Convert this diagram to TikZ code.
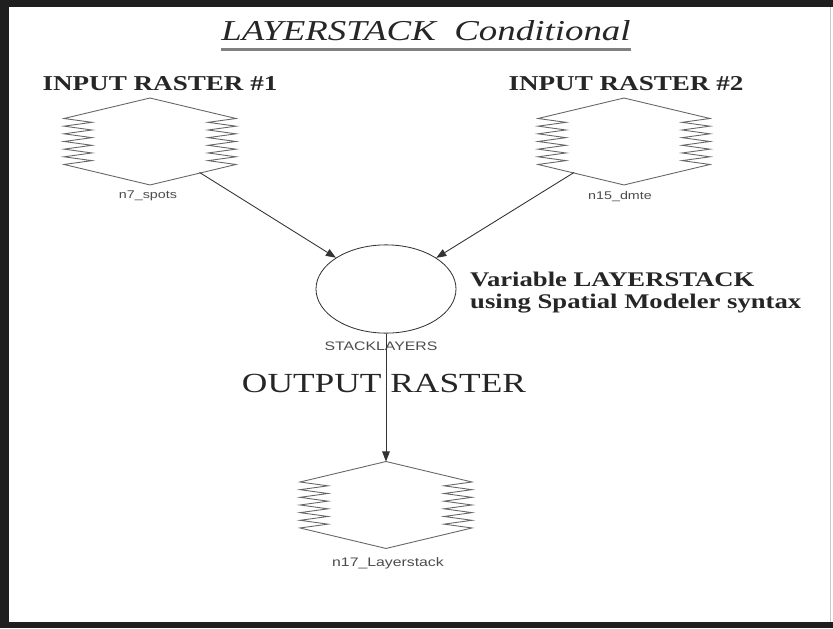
\documentclass[tikz,border=0pt]{standalone}
\usepackage{fontspec}
\setmainfont{Liberation Serif}[FakeStretch=1.28]
\newfontfamily\labelfont{Liberation Sans}[FakeStretch=1.28]
\usetikzlibrary{shapes.geometric,positioning,arrows.meta}

\tikzset{
  raster/.style={regular polygon, regular polygon sides=6, shape border rotate=30,
    minimum size=74pt, inner sep=0pt, outer sep=0pt, xscale=2.28, transform shape},
  rasterline/.style={draw=black!60, line width=0.75pt, line join=miter},
  opnode/.style={ellipse, draw=black!80, line width=0.7pt, minimum width=119pt,
    minimum height=75pt, inner sep=0pt},
  link/.style={draw=black!80, line width=0.75pt, -{Triangle[length=8.5pt,width=6.5pt]}},
  caption/.style={font=\labelfont\fontsize{9.5}{10}\selectfont, text=black!70, inner sep=0pt},
  heading/.style={font=\bfseries\fontsize{18}{20}\selectfont, text=black!85, anchor=base, inner sep=0pt},
}

% raster icon: hexagon with saw-tooth sides, #1 = name, #2 = centre
\newcommand\rasterstack[2]{%
  \path #2 node[raster] (#1) {};
  \draw[rasterline] (#1) ++(0,-43.5) -- ++(86,20.5)
    \foreach \k in {1,...,6} { -- ++(-28,3.83) -- ++(28,3.83) }
    -- ++(-86,20.5) -- ++(-86,-20.5)
    \foreach \k in {1,...,6} { -- ++(28,-3.83) -- ++(-28,-3.83) }
    -- cycle;
}

\begin{document}
\begin{tikzpicture}[x=0.85pt, y=-0.85pt]
  \useasboundingbox (0,0) rectangle (833,628);
  % frame
  \fill[black!88] (0,0) rectangle (833,628);
  \fill[white] (9,7) rectangle (833,622);
  \draw[black!20, line width=0.8pt] (830,7) -- (830,622);

  % title
  \node[anchor=base, inner sep=0pt, font=\itshape\fontsize{24.5}{26}\selectfont, text=black!85]
    (title) at (426,40) {LAYERSTACK\ \ Conditional};
  \draw[black!50, line width=2.8pt] ([yshift=-7.8pt]title.base west) -- ([yshift=-7.8pt]title.base east);

  % inputs
  \node[heading] (head1) at (160,90) {INPUT RASTER \#1};
  \node[heading] (head2) at (626,90) {INPUT RASTER \#2};
  \rasterstack{spots}{(150,141.5)}
  \rasterstack{dmte}{(624,141.5)}
  \node[caption] (spotslbl) at (148,196) {n7\_spots};
  \node[caption] (dmtelbl) at (620,197) {n15\_dmte};

  % function
  \node[opnode] (stack) at (386,289) {};
  \node[caption, font=\labelfont\fontsize{10.5}{11}\selectfont] (stacklbl) at (381,346) {STACKLAYERS};
  \node[anchor=north west, align=left, inner sep=0pt, text=black!85,
    font=\bfseries\fontsize{17.7}{18.7}\selectfont] (note) at (470,272)
    {Variable LAYERSTACK\\using Spatial Modeler syntax};

  % output
  \node[anchor=base, inner sep=0pt, text=black!85, font=\fontsize{23.5}{25}\selectfont]
    (outhead) at (384,392) {OUTPUT RASTER};
  \rasterstack{layerstack}{(386,505)}
  \node[caption, font=\labelfont\fontsize{10.5}{11}\selectfont] (layerlbl) at (388,563) {n17\_Layerstack};

  \draw[link] (spots) -- (stack);
  \draw[link] (dmte) -- (stack);
  \draw[link] (stack) -- (layerstack);
\end{tikzpicture}
\end{document}
